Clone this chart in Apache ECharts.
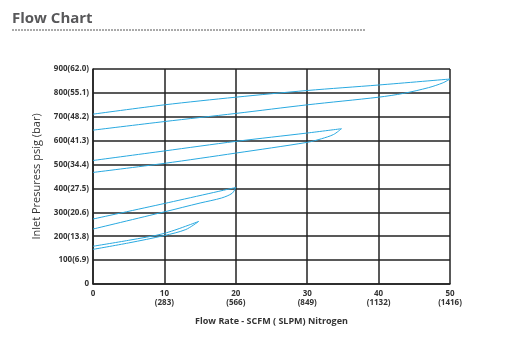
<!DOCTYPE html>
<html><head><meta charset="utf-8">
<script src="https://cdn.jsdelivr.net/npm/echarts@6/dist/echarts.min.js"></script>
<style>html,body{margin:0;padding:0;background:#fff}#c{width:530px;height:346px}</style>
</head><body><div id="c"></div>
<script>
const xTickLabels = ['0','10\n(283)','20\n(566)','30\n(849)','40\n(1132)','50\n(1416)'];
const yTickLabels = ['0','100(6.9)','200(13.8)','300(20.6)','400(27.5)','500(34.4)','600(41.3)','700(48.2)','800(55.1)','900(62.0)'];

const loop1Upper = [[0,158],[5,183],[10,212],[14.8,262]];
const loop1Lower = [[0,145],[5,172],[10,203],[13,228],[14.8,262]];
const loop2Upper = [[0,272],[10,337],[20,404]];
const loop2Lower = [[0,230],[10,302],[15,339],[18,360],[19.5,380],[20,404]];
const loop3Upper = [[0,517],[10,557],[20,597],[30,632],[34.8,650]];
const loop3Lower = [[0,467],[10,505],[20,548],[30,593],[32,608],[33.7,626],[34.8,650]];
const loop4Upper = [[0,711],[10,750],[20,782],[30,810],[40,833],[50,858]];
const loop4Lower = [[0,644],[10,680],[20,714],[30,750],[40,782],[43.5,798],[47,822],[49,842],[50,858]];

const lines = [loop1Upper, loop1Lower, loop2Upper, loop2Lower, loop3Upper, loop3Lower, loop4Upper, loop4Lower];
const chart = echarts.init(document.getElementById('c'), null, {renderer:'canvas'});
const font = 'Open Sans';
chart.setOption({
  animation:false,
  title:{text:'Flow Chart', left:7, top:6, textStyle:{fontFamily:font, fontSize:15, fontWeight:'bold', color:'#58585a'}},
  graphic:[{type:'line', shape:{x1:12,y1:30,x2:366,y2:30}, style:{stroke:'#555', lineWidth:1, lineDash:[2,1]}}],
  grid:{left:93, right:80, top:69, bottom:62},
  xAxis:{type:'value', min:0, max:50, interval:10,
    name:'Flow Rate - SCFM ( SLPM) Nitrogen', nameLocation:'middle', nameGap:33,
    nameTextStyle:{fontFamily:font, fontSize:9, fontWeight:'bold', color:'#333'},
    axisLine:{lineStyle:{color:'#222', width:1.5}}, axisTick:{show:false},
    splitLine:{show:true, lineStyle:{color:'#222', width:1.5}},
    axisLabel:{fontFamily:font, fontSize:8, fontWeight:'bold', color:'#333', lineHeight:9, margin:5,
      formatter:(v)=>xTickLabels[Math.round(v/10)]}},
  yAxis:{type:'value', min:0, max:900, interval:100,
    name:'Inlet Presuress psig (bar)', nameLocation:'middle', nameGap:51,
    nameTextStyle:{fontFamily:font, fontSize:11, color:'#333'},
    axisLine:{show:true, lineStyle:{color:'#222', width:1.5}}, axisTick:{show:false},
    splitLine:{show:true, lineStyle:{color:'#222', width:1.5}},
    axisLabel:{fontFamily:font, fontSize:8, fontWeight:'bold', color:'#333', margin:4,
      formatter:(v)=>yTickLabels[Math.round(v/100)]}},
  series: lines.map(d=>({type:'line', data:d, smooth:0.3, symbol:'none',
    lineStyle:{color:'#29a9e0', width:1}}))
});
</script></body></html>
